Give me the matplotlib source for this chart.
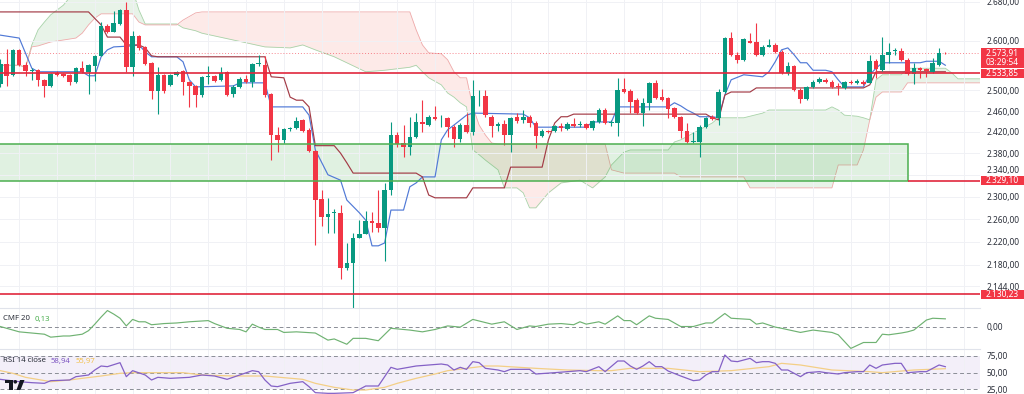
import numpy as np
import matplotlib
matplotlib.use("Agg")
import matplotlib.pyplot as plt
from matplotlib.ticker import FixedLocator, FuncFormatter, NullLocator
from matplotlib.patches import Rectangle, Polygon, Circle

plt.rcParams["font.family"] = ["Noto Sans", "DejaVu Sans"]

# ---- 4h candles, oldest first (index = candle number) ----
opens = [2512, 2553, 2530, 2581, 2551, 2539, 2541, 2520, 2508, 2535,
         2533, 2530, 2516, 2545, 2537, 2549, 2569, 2629, 2617, 2634,
         2662, 2547, 2609, 2587, 2555, 2498, 2530, 2510, 2530, 2539,
         2516, 2508, 2492, 2526, 2528, 2520, 2537, 2494, 2506, 2522,
         2516, 2553, 2551, 2494, 2415, 2405, 2426, 2428, 2443, 2424,
         2384, 2296, 2264, 2271, 2271, 2175, 2184, 2226, 2234, 2256,
         2253, 2245, 2313, 2414, 2399, 2392, 2411, 2439, 2433, 2449,
         2446, 2447, 2429, 2407, 2433, 2420, 2489, 2490, 2449, 2431,
         2435, 2414, 2449, 2443, 2449, 2437, 2412, 2422, 2422, 2431,
         2426, 2435, 2434, 2435, 2428, 2439, 2462, 2437, 2437, 2503,
         2499, 2481, 2456, 2476, 2515, 2487, 2485, 2466, 2449, 2422,
         2401, 2401, 2429, 2449, 2447, 2497, 2605, 2571, 2561, 2599,
         2597, 2571, 2587, 2591, 2577, 2535, 2548, 2501, 2483, 2507,
         2517, 2521, 2517, 2509, 2505, 2517, 2515, 2517, 2515, 2559,
         2540, 2571, 2579, 2579, 2561, 2533, 2544, 2542, 2537, 2550,
         2575]
highs = [2563, 2583, 2583, 2583, 2557, 2545, 2543, 2522, 2535, 2539,
         2535, 2533, 2547, 2559, 2553, 2571, 2638, 2633, 2660, 2666,
         2680, 2619, 2611, 2589, 2557, 2547, 2533, 2533, 2539, 2541,
         2518, 2510, 2528, 2549, 2530, 2547, 2539, 2510, 2526, 2530,
         2555, 2571, 2569, 2496, 2430, 2428, 2429, 2449, 2445, 2428,
         2386, 2313, 2298, 2278, 2285, 2218, 2236, 2258, 2274, 2272,
         2313, 2325, 2439, 2420, 2433, 2449, 2456, 2481, 2452, 2470,
         2452, 2449, 2433, 2437, 2456, 2521, 2501, 2501, 2452, 2439,
         2443, 2449, 2456, 2462, 2452, 2441, 2426, 2424, 2433, 2437,
         2439, 2447, 2441, 2437, 2443, 2466, 2466, 2443, 2525, 2525,
         2503, 2485, 2485, 2517, 2521, 2503, 2487, 2468, 2451, 2437,
         2420, 2433, 2449, 2452, 2503, 2607, 2617, 2577, 2605, 2615,
         2636, 2591, 2603, 2595, 2581, 2557, 2550, 2505, 2509, 2521,
         2527, 2525, 2521, 2515, 2519, 2521, 2523, 2521, 2571, 2563,
         2607, 2595, 2585, 2585, 2565, 2555, 2546, 2544, 2565, 2585,
         2577]
lows = [2506, 2508, 2528, 2549, 2528, 2520, 2508, 2488, 2506, 2528,
        2526, 2510, 2514, 2535, 2494, 2518, 2569, 2615, 2617, 2631,
        2537, 2528, 2581, 2551, 2484, 2455, 2496, 2508, 2528, 2492,
        2468, 2468, 2488, 2512, 2516, 2518, 2490, 2488, 2504, 2514,
        2506, 2549, 2488, 2368, 2382, 2399, 2422, 2426, 2420, 2382,
        2215, 2247, 2236, 2236, 2156, 2171, 2106, 2226, 2233, 2237,
        2237, 2187, 2303, 2392, 2373, 2377, 2409, 2420, 2431, 2443,
        2429, 2411, 2392, 2401, 2418, 2414, 2470, 2449, 2411, 2422,
        2395, 2382, 2437, 2437, 2429, 2390, 2411, 2418, 2420, 2422,
        2424, 2429, 2429, 2426, 2424, 2437, 2435, 2431, 2412, 2495,
        2456, 2454, 2431, 2462, 2483, 2479, 2447, 2447, 2409, 2399,
        2399, 2373, 2428, 2443, 2433, 2495, 2569, 2555, 2559, 2594,
        2569, 2569, 2587, 2575, 2533, 2531, 2499, 2476, 2481, 2505,
        2515, 2515, 2505, 2491, 2503, 2513, 2513, 2511, 2515, 2525,
        2538, 2555, 2571, 2559, 2531, 2513, 2525, 2527, 2535, 2548,
        2573]
closes = [2553, 2528, 2581, 2551, 2539, 2541, 2520, 2508, 2533, 2530,
          2528, 2516, 2545, 2537, 2551, 2569, 2629, 2617, 2636, 2662,
          2547, 2609, 2585, 2553, 2498, 2530, 2498, 2530, 2537, 2516,
          2508, 2492, 2526, 2528, 2518, 2535, 2492, 2506, 2522, 2516,
          2553, 2555, 2492, 2415, 2405, 2426, 2428, 2441, 2422, 2384,
          2294, 2264, 2269, 2273, 2175, 2184, 2227, 2234, 2256, 2253,
          2245, 2313, 2414, 2397, 2392, 2411, 2439, 2435, 2449, 2445,
          2447, 2429, 2407, 2433, 2420, 2489, 2490, 2452, 2431, 2435,
          2414, 2447, 2441, 2449, 2437, 2412, 2422, 2420, 2431, 2428,
          2435, 2431, 2435, 2428, 2441, 2462, 2437, 2439, 2501, 2497,
          2477, 2456, 2476, 2515, 2485, 2481, 2464, 2449, 2422, 2401,
          2402, 2429, 2447, 2445, 2497, 2605, 2571, 2561, 2603, 2595,
          2571, 2587, 2591, 2577, 2535, 2548, 2501, 2483, 2507, 2517,
          2523, 2517, 2507, 2507, 2517, 2515, 2519, 2513, 2558, 2542,
          2571, 2577, 2580, 2561, 2533, 2544, 2540, 2538, 2555, 2575,
          2573.91]

# ---- Ichimoku ----
span_i = [0, 3, 4, 5, 6, 7, 8, 10, 12, 13, 14, 15, 16, 21, 22, 23, 28, 29, 31, 32,
          37, 42, 46, 48, 50, 53, 58, 61, 65, 66, 67, 68, 70, 71, 72, 73, 74, 75, 76, 77,
          78, 79, 80, 82, 83, 84, 85, 87, 89, 92, 94, 96, 97, 99, 100, 106, 107, 108, 113, 114,
          118, 119, 121, 122, 131, 132, 133, 134, 136, 137, 138, 139, 140, 143, 144, 150, 151, 152, 156]
span_a = [2550, 2550, 2546, 2591, 2622, 2638, 2653, 2673, 2705, 2705, 2705, 2705, 2705, 2705, 2663, 2634, 2634, 2626, 2620, 2615,
          2601, 2587, 2585, 2591, 2581, 2567, 2537, 2540, 2546, 2550, 2537, 2525, 2511, 2495, 2487, 2476, 2468, 2386, 2377, 2367,
          2358, 2349, 2316, 2316, 2307, 2280, 2280, 2307, 2325, 2330, 2316, 2336, 2358, 2382, 2386, 2386, 2401, 2405, 2437, 2447,
          2447, 2450, 2456, 2462, 2462, 2468, 2462, 2452, 2450, 2447, 2443, 2521, 2531, 2531, 2544, 2544, 2535, 2523, 2523]
span_b = [2550, 2550, 2546, 2587, 2589, 2593, 2597, 2601, 2605, 2615, 2632, 2646, 2655, 2655, 2638, 2632, 2632, 2642, 2657, 2659,
          2659, 2659, 2659, 2659, 2659, 2659, 2659, 2659, 2659, 2622, 2591, 2575, 2573, 2561, 2537, 2525, 2525, 2468, 2433, 2414,
          2399, 2397, 2397, 2397, 2397, 2397, 2397, 2397, 2397, 2397, 2397, 2397, 2349, 2343, 2343, 2343, 2343, 2336, 2336, 2336,
          2336, 2316, 2316, 2316, 2316, 2316, 2358, 2358, 2358, 2386, 2443, 2487, 2497, 2497, 2515, 2515, 2515, 2515, 2515]

tenkan_i = [0, 3, 5, 6, 13, 14, 15, 16, 17, 18, 21, 22, 23, 24, 28, 29, 30, 31, 37, 38,
            42, 43, 48, 49, 50, 52, 54, 55, 57, 58, 59, 60, 61, 62, 64, 65, 66, 67, 69, 70,
            71, 72, 74, 75, 83, 84, 85, 93, 94, 97, 98, 106, 107, 108, 109, 110, 111, 113, 114, 115,
            116, 118, 121, 122, 123, 124, 125, 126, 127, 128, 129, 131, 132, 133, 134, 137, 138, 139, 140, 146,
            147, 149, 150]
tenkan = [2611, 2605, 2544, 2537, 2537, 2529, 2529, 2567, 2581, 2587, 2589, 2591, 2577, 2567, 2567, 2557, 2521, 2507, 2509, 2515,
          2515, 2468, 2468, 2452, 2386, 2340, 2330, 2294, 2271, 2258, 2213, 2213, 2218, 2276, 2276, 2318, 2325, 2336, 2336, 2405,
          2424, 2433, 2452, 2456, 2454, 2447, 2429, 2429, 2439, 2439, 2468, 2468, 2476, 2470, 2462, 2456, 2449, 2449, 2447, 2491,
          2521, 2531, 2527, 2537, 2557, 2581, 2585, 2571, 2555, 2555, 2540, 2540, 2537, 2521, 2507, 2507, 2531, 2544, 2555, 2555,
          2558, 2558, 2550]

kijun_i = [0, 14, 16, 17, 19, 20, 22, 23, 24, 25, 42, 43, 45, 46, 47, 48, 49, 50, 53, 54,
           55, 56, 66, 67, 68, 69, 74, 75, 80, 81, 86, 87, 88, 89, 90, 91, 112, 113, 114, 115,
           116, 119, 120, 137, 138, 139, 150]
kijun = [2659, 2659, 2632, 2607, 2607, 2591, 2591, 2585, 2569, 2567, 2567, 2527, 2525, 2487, 2481, 2481, 2468, 2394, 2394, 2380,
         2362, 2343, 2343, 2336, 2303, 2298, 2298, 2316, 2316, 2354, 2354, 2405, 2437, 2449, 2449, 2454, 2454, 2447, 2443, 2491,
         2497, 2497, 2505, 2505, 2511, 2537, 2537]

# ---- drawings ----
support_lines = [2533.85, 2130.23]
lower_level = 2329.10
box_top, box_bottom = 2397.0, 2329.10
box_left, box_right = -2, 144
last_price = 2573.91
countdown = "03:29:54"

price_ticks = [2680, 2600, 2500, 2460, 2420, 2380, 2340, 2300, 2260, 2220, 2180, 2144]

# ---- CMF 20 ----
cmf_i = [0, 1, 3, 5, 7, 8, 10, 11, 13, 14, 15, 16, 17, 18, 19, 20, 21, 22, 23, 24,
         26, 28, 30, 33, 34, 36, 38, 39, 40, 41, 42, 44, 45, 47, 50, 52, 53, 55, 56, 58,
         60, 62, 65, 67, 69, 71, 73, 75, 78, 80, 82, 84, 85, 87, 89, 91, 92, 93, 95, 96,
         98, 99, 100, 101, 103, 104, 106, 108, 110, 112, 113, 115, 116, 119, 120, 121, 123, 124, 127, 129,
         132, 133, 135, 137, 139, 140, 141, 143, 144, 145, 147, 148, 150]
cmf = [0.00, -0.03, -0.09, -0.11, -0.13, -0.18, -0.16, -0.16, -0.13, -0.07, 0.04, 0.16, 0.27, 0.21, 0.14, 0.01, 0.12, 0.08, 0.08, 0.03,
       0.05, 0.06, 0.08, 0.10, 0.05, -0.03, -0.05, -0.09, 0.04, -0.01, -0.05, -0.05, -0.10, -0.09, -0.11, -0.23, -0.21, -0.30, -0.20, -0.20,
       -0.24, -0.03, -0.06, -0.09, -0.05, 0.01, -0.01, 0.12, 0.04, 0.08, -0.05, 0.01, 0.00, 0.04, 0.05, 0.03, 0.08, 0.04, 0.08, 0.04,
       0.18, 0.10, 0.10, 0.03, 0.18, 0.14, 0.12, 0.00, 0.00, 0.06, 0.06, 0.22, 0.14, 0.12, 0.04, 0.06, -0.01, -0.03, -0.10, -0.06,
       -0.10, -0.14, -0.37, -0.27, -0.27, -0.13, -0.14, -0.11, -0.09, -0.06, 0.11, 0.14, 0.13]

# ---- RSI 14 close + MA ----
rsi_i = [0, 3, 5, 7, 8, 11, 12, 14, 15, 16, 17, 19, 20, 21, 23, 24, 25, 27, 30, 32,
         34, 36, 38, 40, 41, 42, 43, 44, 46, 48, 49, 50, 52, 53, 56, 57, 58, 60, 62, 63,
         66, 68, 70, 71, 72, 73, 74, 75, 76, 77, 79, 80, 81, 84, 85, 88, 90, 92, 93, 95,
         96, 98, 99, 100, 101, 102, 103, 104, 105, 106, 108, 110, 111, 112, 113, 114, 115, 116, 117, 119,
         120, 121, 122, 123, 124, 125, 127, 128, 130, 131, 133, 134, 136, 137, 138, 139, 140, 142, 143, 144,
         146, 147, 148, 149, 150]
rsi = [40, 36.5, 35, 34, 38, 39, 44, 46.5, 54, 60, 59, 65, 44, 53, 46.5, 39, 43, 41.5, 43, 46.5,
       45, 40, 46.5, 53, 51.5, 39, 30, 29, 34, 36.5, 29, 20, 19, 19, 20, 25, 30, 30, 58, 55,
       60, 61.5, 63, 61.5, 54, 58, 55, 66.5, 65, 56.5, 54, 51.5, 55, 55, 48, 50, 51.5, 53, 51.5, 59,
       51.5, 67.5, 67.5, 60, 55, 60, 66.5, 59, 59, 52.5, 45, 38, 39, 46.5, 51.5, 51.5, 76.5, 67.5, 66.5, 71.5,
       65, 66.5, 66.5, 64, 54, 54, 44, 50, 51.5, 50, 48, 50, 51.5, 51.5, 61.5, 56.5, 61.5, 64, 64, 50,
       51.5, 51.5, 56.5, 61.5, 58.94]
rsi_ma_i = [0, 2, 4, 8, 11, 13, 16, 19, 21, 29, 32, 37, 42, 48, 50, 53, 56, 58, 61, 63,
            66, 69, 71, 74, 77, 79, 85, 90, 95, 97, 100, 106, 111, 116, 122, 124, 127, 132, 138, 140,
            145, 150]
rsi_ma = [53, 49, 43, 36.5, 39, 41.5, 45, 49, 50, 50, 46.5, 45, 45, 40, 34, 28, 24, 24, 28, 34,
          41.5, 48, 53, 56.5, 60, 60, 56.5, 54, 53, 53, 56.5, 56.5, 51.5, 53, 59, 64, 61.5, 54, 51.5, 50,
          54, 55.97]

GREEN = "#089981"
RED = "#f23645"
LINE_RED = "#e0283d"
GRID = "#f0f1f5"
TXT = "#2a2e39"


def tr_num(v):
    s = f"{v:,.2f}"
    return s.replace(",", "X").replace(".", ",").replace("X", ".")


W, H = 1024, 394
PR = 980 / W
fig = plt.figure(figsize=(W / 100, H / 100), dpi=100)
ax = fig.add_axes([0, 1 - 308 / H, PR, 308 / H])
ax_cmf = fig.add_axes([0, 1 - 349 / H, PR, 41 / H], sharex=ax)
ax_rsi = fig.add_axes([0, 0, PR, 45 / H], sharex=ax)

o = np.array(opens, float)
hi = np.array(highs, float)
lo = np.array(lows, float)
c = np.array(closes, float)
idx = np.arange(len(o))
col = np.where(c >= o, GREEN, RED)

# main price panel
ax.set_yscale("log")
ax.set_ylim(2107.6, 2684)
ax.set_xlim(-0.05, 155.5)

sa = np.array(span_a, float)
sb = np.array(span_b, float)
ax.fill_between(span_i, sa, sb, where=sa >= sb, interpolate=True,
                color="#43a047", alpha=0.12, lw=0, zorder=1)
ax.fill_between(span_i, sa, sb, where=sa < sb, interpolate=True,
                color="#f44336", alpha=0.11, lw=0, zorder=1)
ax.plot(span_i, sa, color="#a8d3a9", lw=0.6, zorder=1.2)
ax.plot(span_i, sb, color="#eeaaaa", lw=0.6, zorder=1.2)

ax.add_patch(Rectangle((box_left, box_bottom), box_right - box_left, box_top - box_bottom,
                       facecolor="#4caf50", alpha=0.17, lw=0, zorder=1.5))
ax.add_patch(Rectangle((box_left, box_bottom), box_right - box_left, box_top - box_bottom,
                       facecolor="none", edgecolor="#4caf50", lw=1.1, zorder=4))

ax.plot(tenkan_i, tenkan, color="#5079d6", lw=0.85, zorder=2)
ax.plot(kijun_i, kijun, color="#a33b46", lw=0.85, zorder=2)

ax.vlines(idx, lo, hi, color=col, lw=0.8, zorder=3)
ax.bar(idx, np.maximum(np.abs(c - o), 0.9), bottom=np.minimum(o, c), width=0.72,
       color=col, lw=0, zorder=3)

for lvl in support_lines:
    ax.axhline(lvl, color=LINE_RED, lw=1.2, zorder=4)
ax.hlines(lower_level, box_right, 156, color=LINE_RED, lw=1.2, zorder=4)
ax.axhline(last_price, color=RED, lw=0.7, ls=(0, (1, 2)), alpha=0.6, zorder=2)

ax.yaxis.tick_right()
ax.yaxis.set_major_locator(FixedLocator(price_ticks))
ax.yaxis.set_minor_locator(NullLocator())
ax.yaxis.set_major_formatter(FuncFormatter(lambda v, p: tr_num(v)))

# CMF panel
ax_cmf.set_ylim(-0.38, 0.313)
ax_cmf.plot(cmf_i, cmf, color="#6fb272", lw=0.85, zorder=3)
ax_cmf.axhline(0, color="#8a8d96", lw=0.7, ls=(0, (4, 3)), zorder=2)
ax_cmf.yaxis.tick_right()
ax_cmf.set_yticks([0])
ax_cmf.set_yticklabels(["0,00"])

# RSI panel
ax_rsi.set_ylim(18, 85.5)
ax_rsi.axhspan(25, 75, color="#7e57c2", alpha=0.09, lw=0, zorder=1)
for lvl in (25, 50, 75):
    ax_rsi.axhline(lvl, color="#8a8d96", lw=0.7, ls=(0, (4, 3)), zorder=2)
ax_rsi.plot(rsi_ma_i, rsi_ma, color="#f3cf86", lw=0.9, zorder=3)
ax_rsi.plot(rsi_i, rsi, color="#8461c6", lw=0.9, zorder=4)
ax_rsi.yaxis.tick_right()
ax_rsi.set_yticks([25, 50, 75])
ax_rsi.set_yticklabels(["25,00", "50,00", "75,00"])

for a in (ax, ax_cmf, ax_rsi):
    for s in a.spines.values():
        s.set_visible(False)
    a.set_xticks(np.arange(3, 156, 6))
    a.tick_params(axis="x", length=0, labelbottom=False)
    a.tick_params(axis="y", length=0, pad=5, labelsize=6, labelcolor=TXT)
    a.grid(True, axis="x", color=GRID, lw=0.7, zorder=0)
    a.set_facecolor("none")
ax.grid(True, axis="y", color=GRID, lw=0.7, zorder=0)
for a in (ax_cmf, ax_rsi):
    a.spines["top"].set_visible(True)
    a.spines["top"].set_color("#e0e3eb")
    a.spines["top"].set_linewidth(0.8)

# the 2.340 label sits just above the 2.329,10 badge: nudge it up a little
for lab in ax.get_yticklabels():
    if lab.get_text() == tr_num(2340):
        lab.set_va("bottom")

# overlay in pixel coords for price badges, legends and logo
ov = fig.add_axes([0, 0, 1, 1], zorder=10)
ov.set_xlim(0, W)
ov.set_ylim(H, 0)
ov.axis("off")
ov.patch.set_alpha(0)


def ypx(price):
    return H - ax.transData.transform((0, price))[1]


py = ypx(last_price)
ov.add_patch(Rectangle((981, py - 5.5), 43, 20, color=RED, lw=0))
ov.text(1002.5, py + 0.3, tr_num(last_price), color="white", fontsize=6,
        ha="center", va="center")
ov.text(1002.5, py + 9.3, countdown, color="white", fontsize=6,
        ha="center", va="center")
for lvl in support_lines + [lower_level]:
    py = ypx(lvl)
    ov.add_patch(Rectangle((981, py - 4.5), 43, 9.3, color=RED, lw=0))
    ov.text(1002.5, py, tr_num(lvl), color="white", fontsize=6,
            ha="center", va="center")

renderer = fig.canvas.get_renderer()


def legend_row(x, y, parts):
    for text, color in parts:
        t = ov.text(x, y, text, color=color, fontsize=5.6, va="center")
        bb = t.get_window_extent(renderer)
        x += bb.width + 5


legend_row(3, 319, [("CMF 20", TXT), ("0,13", "#4caf50")])
legend_row(3, 361, [("RSI 14 close", TXT), ("58,94", "#7e57c2"), ("55,97", "#f2c14e")])

# TradingView logo
ov.add_patch(Polygon([(5, 380), (12.5, 380), (12.5, 390), (9.3, 390), (9.3, 383.2), (5, 383.2)],
                     closed=True, color="#131722", lw=0))
ov.add_patch(Circle((15.3, 381.8), 1.8, color="#131722", lw=0))
ov.add_patch(Polygon([(20, 380), (24.5, 380), (20.5, 390), (16.5, 390)],
                     closed=True, color="#131722", lw=0))

fig.savefig("out.png", dpi=100, facecolor="white")
